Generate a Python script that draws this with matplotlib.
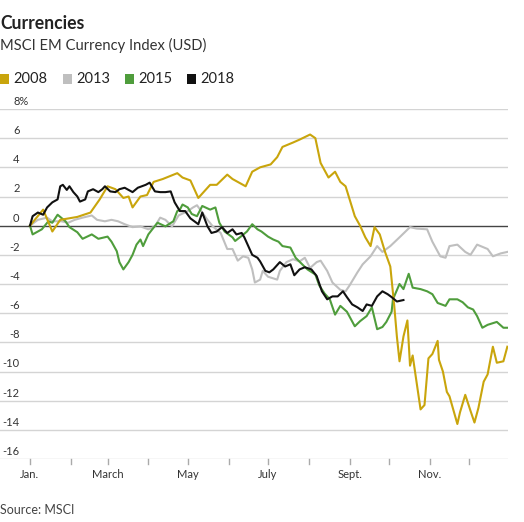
import matplotlib
matplotlib.use("Agg")
import matplotlib.pyplot as plt
from matplotlib.patches import Rectangle
from matplotlib.transforms import blended_transform_factory

# ---- data (day of year, % change) ----
days_2008 = [0, 10, 17, 23, 36, 46, 53, 59, 65, 71, 75, 78, 84, 89, 94, 101, 112, 116, 122, 128,
             133, 137, 142, 150, 154, 164, 169, 175, 183, 188, 192, 200, 205, 213, 217, 221, 227,
             232, 236, 240, 247, 251, 255, 259, 262, 266, 270, 274, 276, 277, 279, 281, 284, 287,
             289, 291, 297, 300, 303, 306, 310, 311, 314, 317, 319, 325, 327, 331, 335, 338, 341,
             345, 348, 352, 355, 360, 363]
vals_2008 = [0, 1.1, -0.4, 0.4, 0.6, 0.9, 1.8, 2.7, 2.5, 1.9, 2.0, 1.25, 2.0, 2.1, 3.0, 3.2, 3.6,
             3.3, 3.1, 1.9, 2.4, 2.8, 2.8, 3.5, 3.2, 2.7, 3.7, 4.0, 4.2, 4.7, 5.4, 5.7, 5.9, 6.25,
             6.0, 4.3, 3.3, 3.7, 3.0, 2.7, 0.65, 0.0, -0.8, -1.4, -0.1, -0.6, -1.8, -2.8, -4.6,
             -5.5, -7.6, -9.3, -7.6, -6.5, -9.6, -8.9, -12.6, -12.3, -9.1, -8.8, -7.9, -9.2, -10.0,
             -11.4, -11.7, -13.6, -12.8, -11.6, -12.7, -13.5, -12.5, -10.7, -10.2, -8.3, -9.4,
             -9.3, -8.3]

days_2013 = [0, 6, 13, 17, 24, 29, 34, 40, 47, 51, 57, 62, 67, 72, 78, 84, 90, 95, 99, 103, 108,
             113, 120, 124, 127, 131, 135, 139, 145, 150, 154, 158, 162, 166, 169, 171, 175, 177,
             181, 188, 190, 195, 200, 205, 209, 213, 218, 221, 226, 230, 236, 240, 243, 249, 253,
             259, 264, 268, 274, 281, 289, 294, 302, 306, 312, 316, 319, 325, 331, 335, 340, 348,
             352, 358, 363]
vals_2013 = [0, 0.4, 0.55, 0.3, 0.3, 0.2, 0.4, 0.55, 0.7, 0.4, 0.3, 0.4, 0.3, 0.1, -0.1, -0.05,
             -0.25, -0.05, 0.55, 0.4, -0.05, 0.7, 1.0, 1.25, 1.4, 0.9, 0.4, -0.05, -0.5, -1.6,
             -1.6, -2.4, -2.1, -2.2, -3.0, -3.9, -3.7, -3.1, -3.5, -3.7, -3.1, -2.5, -2.3, -2.45,
             -2.2, -2.9, -2.5, -2.4, -3.1, -3.9, -4.4, -4.5, -4.1, -3.2, -2.65, -2.1, -1.4, -1.8,
             -1.4, -0.8, -0.1, -0.2, -0.25, -1.1, -2.1, -2.2, -1.4, -1.3, -1.8, -2.0, -1.3, -1.6,
             -2.1, -1.9, -1.8]

days_2015 = [0, 2, 9, 14, 17, 21, 27, 30, 36, 40, 47, 52, 59, 62, 66, 68, 71, 75, 78, 81, 84,
             86, 90, 93, 97, 103, 109, 112, 114, 116, 118, 120, 123, 127, 131, 137, 141, 144, 148,
             154, 156, 161, 165, 169, 173, 176, 181, 185, 189, 192, 198, 202, 207, 211, 217, 220,
             224, 228, 232, 236, 241, 247, 251, 256, 260, 264, 268, 271, 275, 276, 281, 284, 288,
             291, 297, 302, 306, 310, 316, 319, 325, 329, 333, 337, 340, 344, 348, 355, 360, 363]
vals_2015 = [0, -0.6, -0.25, 0.3, 0.2, 0.75, 0.3, -0.1, -0.45, -0.9, -0.6, -0.9, -0.75, -1.1,
             -1.75, -2.5, -3.0, -2.5, -2.0, -1.3, -0.95, -1.4, -0.6, -0.25, 0.2, -0.05, 0.3, 1.0,
             1.1, 1.45, 1.35, 1.25, 0.8, 0.65, 1.35, 1.1, 1.25, 0.2, -0.4, -0.8, -1.05, -0.7,
             -0.4, 0.1, -0.25, -0.4, -0.75, -0.95, -1.1, -1.4, -1.5, -2.2, -2.65, -3.0, -3.35,
             -4.1, -4.65, -5.05, -6.1, -5.5, -5.9, -6.9, -6.55, -6.2, -5.6, -7.1, -6.95, -6.6,
             -5.9, -5.05, -4.0, -4.35, -3.3, -4.25, -4.35, -4.5, -4.7, -5.3, -5.5, -5.05, -5.05,
             -5.25, -5.6, -5.75, -6.2, -7.0, -6.8, -6.6, -7.0, -7.0]

days_2018 = [0, 2, 6, 10, 13, 17, 21, 23, 25, 28, 30, 33, 36, 38, 42, 44, 48, 52, 55, 57, 61,
             65, 68, 72, 78, 82, 88, 91, 95, 99, 103, 107, 110, 114, 118, 122, 125, 128, 131, 135,
             138, 142, 146, 150, 154, 157, 161, 163, 166, 169, 173, 175, 179, 182, 185, 190, 194,
             198, 201, 205, 209, 214, 218, 222, 226, 230, 234, 238, 241, 245, 249, 253, 256, 260,
             264, 268, 272, 275, 279, 284]
vals_2018 = [0, 0.65, 0.9, 0.75, 1.25, 1.6, 1.8, 2.7, 2.8, 2.45, 2.7, 2.3, 2.0, 1.65, 1.8, 2.35,
             2.5, 2.3, 2.5, 2.7, 2.35, 2.3, 2.5, 2.6, 2.3, 2.6, 2.8, 2.95, 2.35, 2.3, 2.3, 2.35,
             1.6, 1.0, 1.0, 0.5, 0.3, 0.1, 0.9, -0.05, -0.5, -0.4, -0.1, -0.5, -0.25, -0.6, -0.5,
             -0.8, -1.4, -2.0, -2.2, -2.45, -3.1, -3.2, -3.0, -2.5, -2.8, -2.65, -3.4, -3.0, -2.85,
             -3.0, -3.45, -4.5, -5.05, -4.85, -4.85, -4.5, -4.9, -5.4, -5.6, -5.85, -5.4, -5.5,
             -4.85, -4.5, -4.7, -4.9, -5.2, -5.1]

series_names = ["2008", "2013", "2015", "2018"]
series_colors = ["#c9a50c", "#bfbfbf", "#4f9d3c", "#111111"]

y_ticks = [8, 6, 4, 2, 0, -2, -4, -6, -8, -10, -12, -14, -16]
y_tick_labels = ["8%", "6", "4", "2", "0", "-2", "-4", "-6", "-8", "-10", "-12", "-14", "-16"]
month_starts = [0, 31, 59, 90, 120, 151, 181, 212, 243, 273, 304, 334]
x_label_days = [0, 59, 120, 181, 243, 304]
x_labels = ["Jan.", "March", "May", "July", "Sept.", "Nov."]

title = "Currencies"
subtitle = "MSCI EM Currency Index (USD)"
source = "Source: MSCI"

# ---- figure ----
W, H = 524, 522
plt.rcParams['font.family'] = ['Lato', 'DejaVu Sans']
fig = plt.figure(figsize=(W / 100, H / 100), dpi=100)

def fx(px):
    return px / W

def fy(py):
    return 1 - py / H

ax_left, ax_right, ax_top, ax_bot = 0, 508, 109, 459
ax = fig.add_axes([fx(ax_left), fy(ax_bot), fx(ax_right - ax_left), (ax_bot - ax_top) / H])
ax.set_xlim(-22.8, 363.5)
ax.set_ylim(-16, 8)
for s in ax.spines.values():
    s.set_visible(False)
ax.set_xticks([])
ax.set_yticks([])
ax.patch.set_alpha(0)

for v in y_ticks:
    if v == 0:
        ax.axhline(v, color="#444444", lw=1.0, zorder=2)
    else:
        ax.axhline(v, color="#d4d4d4", lw=1.0, zorder=1)

# y labels
tr = blended_transform_factory(ax.transAxes, ax.transData)
for v, lab in zip(y_ticks, y_tick_labels):
    if lab.endswith("%"):
        ax.annotate(lab, xy=(13 / 508, v), xycoords=tr, xytext=(0, 1.5),
                    textcoords="offset points", ha="left", va="bottom",
                    fontsize=8, color="#333333")
    else:
        ax.annotate(lab, xy=(19.5 / 508, v), xycoords=tr, xytext=(0, 1.5),
                    textcoords="offset points", ha="right", va="bottom",
                    fontsize=8, color="#333333")

# x ticks
trx = blended_transform_factory(ax.transData, ax.transAxes)
for d in month_starts:
    ax.plot([d, d], [0, -5 / 350], transform=trx, color="#aaaaaa", lw=1, clip_on=False)
for d, lab in zip(x_label_days, x_labels):
    ax.text(d, -15.5 / 350, lab, transform=trx, ha="center", va="center",
            fontsize=8, color="#333333")

# series
data = {
    "2008": (days_2008, vals_2008),
    "2013": (days_2013, vals_2013),
    "2015": (days_2015, vals_2015),
    "2018": (days_2018, vals_2018),
}
order = ["2013", "2015", "2008", "2018"]
for name in order:
    i = series_names.index(name)
    d, v = data[name]
    ax.plot(d, v, color=series_colors[i], lw=1.5, zorder=3 + order.index(name),
            solid_joinstyle="round")

# titles
fig.text(fx(0), fy(24), title, fontsize=12.7, fontweight="bold", color="#222222",
         ha="left", va="center")
fig.text(fx(0), fy(45.5), subtitle, fontsize=10.6, color="#333333", ha="left", va="center")

# legend
leg_sq_x = [0, 63, 125, 187]
for i, name in enumerate(series_names):
    x0 = leg_sq_x[i]
    fig.patches.append(Rectangle((fx(x0), fy(83.5)), fx(9), 9 / H, transform=fig.transFigure,
                                 facecolor=series_colors[i], edgecolor="none"))
    fig.text(fx(x0 + 13), fy(79), name, fontsize=10.5, color="#222222", ha="left", va="center")

fig.text(fx(0), fy(510), source, fontsize=9, color="#444444", ha="left", va="center")

fig.savefig("out.png", dpi=100)
